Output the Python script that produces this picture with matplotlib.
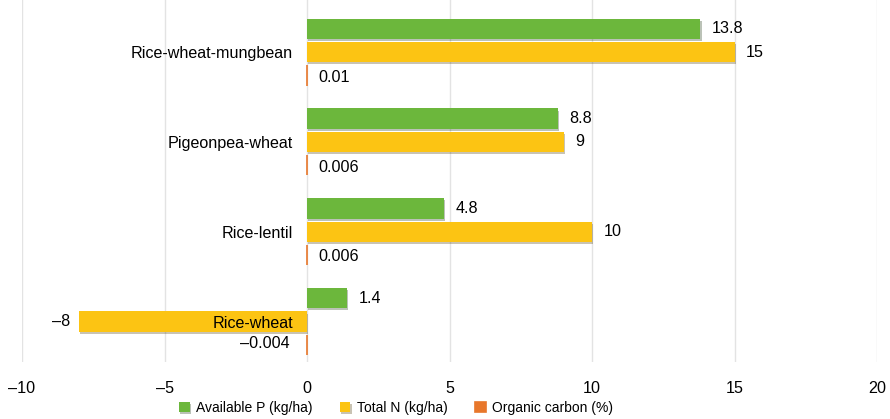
import numpy as np
import matplotlib.pyplot as plt
from matplotlib import patheffects as pe

plt.rcParams['font.family'] = ['Liberation Sans', 'DejaVu Sans']

sistemas = ['Rice-wheat-mungbean', 'Pigeonpea-wheat', 'Rice-lentil', 'Rice-wheat']
fosforo = [13.8, 8.8, 4.8, 1.4]
nitrogeno = [15, 9, 10, -8]
carbono = [0.01, 0.006, 0.006, -0.004]
etiq_carbono = ['0.01', '0.006', '0.006', '\u22120.004']

series = [
    ('Available P (kg/ha)', fosforo, '#6cb73c', [f'{v:g}' for v in fosforo]),
    ('Total N (kg/ha)', nitrogeno, '#fcc413', [f'{v:g}'.replace('-', '\u2013') for v in nitrogeno]),
    ('Organic carbon (%)', carbono, '#e8772b', [e.replace('\u2212', '\u2013') for e in etiq_carbono]),
]

y = np.arange(len(sistemas))
desp = [-0.26, 0.0, 0.26]
alto = 0.225
fs = 11.6

fig = plt.figure(figsize=(8.9, 4.19), dpi=100)
ax = fig.add_axes([22 / 890, 1 - 362 / 419, 855 / 890, 362 / 419])

sombra = [pe.SimplePatchShadow(offset=(1, -1.5), alpha=0.3), pe.Normal()]

for (nombre, vals, color, etiq), d in zip(series, desp):
    es_carbono = nombre.startswith('Organic')
    bars = ax.barh(y + d, vals, height=alto, color=color, label=nombre,
                   edgecolor=color if es_carbono else 'none',
                   linewidth=1.2 if es_carbono else 0, zorder=3)
    if not es_carbono:
        for b in bars:
            b.set_path_effects(sombra)
    for yi, v, t in zip(y + d, vals, etiq):
        if es_carbono:
            if v >= 0:
                ax.text(0.4, yi + 0.02, t, ha='left', va='center', fontsize=fs, zorder=5)
            else:
                ax.text(-0.6, yi - 0.02, t, ha='right', va='center', fontsize=fs, zorder=5)
        elif v >= 0:
            ax.text(v + 0.4, yi, t, ha='left', va='center', fontsize=fs, zorder=5)
        else:
            ax.text(v - 0.3, yi, t, ha='right', va='center', fontsize=fs, zorder=5)

ax.set_xlim(-10, 20)
ax.set_ylim(3.45, -0.58)
ax.set_xticks([-10, -5, 0, 5, 10, 15, 20])
ax.set_xticklabels(['\u201310', '\u20135', '0', '5', '10', '15', '20'])
ax.set_yticks(y)
ax.set_yticklabels(sistemas)
ax.spines['left'].set_position(('data', 0))
for s in ax.spines.values():
    s.set_visible(False)
ax.tick_params(axis='y', length=0, pad=10, labelsize=fs)
ax.tick_params(axis='x', length=0, pad=14, labelsize=fs)
ax.grid(axis='x', color='#e3e3e3', linewidth=1)
ax.xaxis.set_zorder(0.5)
ax.yaxis.set_zorder(6)

ax.legend(loc='lower center', bbox_to_anchor=(396 / 890, -0.02), bbox_transform=fig.transFigure,
          ncol=3, frameon=False, fontsize=10, handlelength=0.75, handleheight=0.75,
          handletextpad=0.45, columnspacing=2.0)

plt.savefig('out.png', dpi=100)
